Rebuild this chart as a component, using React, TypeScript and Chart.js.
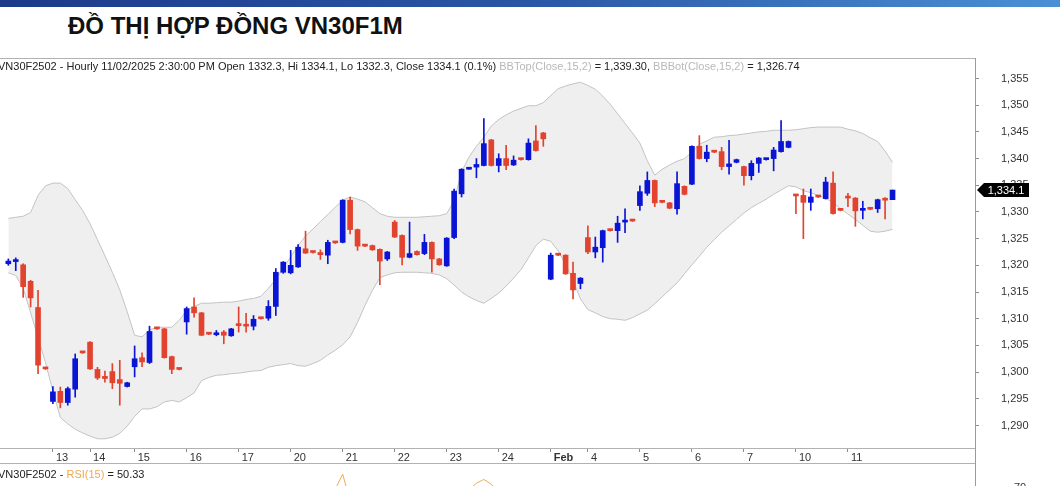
import React, { useEffect, useRef } from "react";
import { Chart, registerables } from "chart.js";

Chart.register(...registerables);

const FONT = "'Liberation Sans', Arial, Helvetica, sans-serif";

// ---- data ----
const opens = [
  1320.3, 1320.7, 1320.1, 1317.0, 1312.1, 1300.6, 1294.5, 1296.4, 1294.3, 1296.8,
  1303.6, 1305.6, 1300.5, 1299.2, 1300.1, 1298.6, 1297.3, 1301.0, 1302.7, 1301.8,
  1308.1, 1308.1, 1302.9, 1300.5, 1309.4, 1312.2, 1311.1, 1307.1, 1307.0, 1307.5,
  1306.8, 1309.0, 1308.9, 1308.6, 1310.0, 1310.1, 1312.3, 1318.7, 1318.6, 1319.7,
  1323.1, 1322.4, 1322.4, 1321.9, 1324.2, 1324.3, 1332.2, 1326.7, 1323.6, 1323.7,
  1323.0, 1321.2, 1328.1, 1325.6, 1321.5, 1322.6, 1322.2, 1324.3, 1321.2, 1319.9,
  1325.2, 1333.4, 1338.0, 1338.4, 1338.7, 1343.5, 1338.7, 1340.0, 1338.8, 1339.8,
  1339.8, 1343.3, 1344.8, 1317.4, 1321.9, 1321.9, 1318.5, 1316.6, 1325.2, 1322.5,
  1323.3, 1326.5, 1326.5, 1328.1, 1328.3, 1331.2, 1333.5, 1335.9, 1331.8, 1331.7,
  1330.6, 1334.8, 1335.2, 1342.3, 1340.0, 1341.2, 1341.3, 1338.5, 1339.3, 1338.5,
  1336.8, 1339.1, 1339.8, 1340.0, 1341.3, 1342.1, 1333.1, 1333.1, 1331.8, 1332.8,
  1332.5, 1335.4, 1330.3, 1332.8, 1332.6, 1330.3, 1330.5, 1330.6, 1332.4, 1332.3,
];
const highs = [
  1321.2, 1321.4, 1320.3, 1317.2, 1315.3, 1300.7, 1297.3, 1297.2, 1297.2, 1303.4,
  1303.7, 1305.7, 1300.9, 1300.2, 1301.6, 1302.2, 1298.1, 1304.9, 1303.6, 1308.6,
  1308.2, 1308.2, 1303.0, 1300.6, 1312.2, 1313.9, 1311.2, 1307.2, 1307.8, 1307.8,
  1308.2, 1312.2, 1311.0, 1310.6, 1310.1, 1313.4, 1319.4, 1320.7, 1322.8, 1323.9,
  1326.4, 1322.5, 1322.9, 1324.7, 1324.3, 1332.3, 1332.8, 1326.8, 1323.7, 1323.8,
  1323.1, 1322.6, 1328.4, 1325.7, 1328.1, 1322.7, 1325.8, 1324.4, 1321.3, 1325.2,
  1334.3, 1338.1, 1338.2, 1340.0, 1347.5, 1343.6, 1340.9, 1342.5, 1340.5, 1339.9,
  1343.7, 1346.2, 1344.9, 1322.3, 1322.0, 1322.0, 1320.6, 1317.7, 1327.4, 1325.3,
  1326.6, 1326.6, 1329.2, 1330.6, 1328.4, 1334.9, 1337.5, 1336.0, 1331.9, 1331.8,
  1337.5, 1334.9, 1342.4, 1344.3, 1342.5, 1341.3, 1342.1, 1343.4, 1339.9, 1338.6,
  1339.6, 1340.2, 1340.0, 1342.1, 1347.1, 1343.3, 1333.2, 1334.3, 1334.3, 1332.9,
  1336.5, 1337.5, 1330.4, 1333.5, 1332.7, 1332.0, 1330.6, 1332.4, 1332.7, 1334.1,
];
const lows = [
  1320.0, 1319.0, 1314.0, 1312.2, 1299.7, 1300.5, 1294.1, 1293.3, 1293.8, 1295.3,
  1303.5, 1300.5, 1298.6, 1298.1, 1296.9, 1293.8, 1297.2, 1299.1, 1301.0, 1301.6,
  1308.0, 1302.6, 1299.7, 1300.4, 1307.1, 1310.3, 1306.8, 1307.0, 1306.8, 1305.3,
  1306.7, 1307.5, 1307.5, 1307.9, 1309.9, 1309.7, 1310.6, 1318.5, 1318.4, 1319.6,
  1322.2, 1322.3, 1321.1, 1320.3, 1324.1, 1324.2, 1325.9, 1322.8, 1323.5, 1322.8,
  1316.4, 1320.9, 1325.2, 1320.1, 1321.4, 1321.9, 1322.0, 1318.7, 1320.0, 1319.8,
  1325.0, 1332.8, 1338.0, 1336.4, 1338.6, 1338.6, 1337.5, 1337.9, 1338.7, 1339.7,
  1339.7, 1341.4, 1342.3, 1317.3, 1321.8, 1318.3, 1313.7, 1315.6, 1322.2, 1321.4,
  1320.6, 1326.4, 1324.3, 1326.1, 1328.2, 1330.3, 1333.1, 1331.0, 1331.7, 1330.6,
  1329.6, 1333.2, 1335.1, 1339.9, 1339.4, 1341.1, 1337.9, 1337.1, 1339.2, 1335.0,
  1336.0, 1337.4, 1339.7, 1337.7, 1341.2, 1342.0, 1329.7, 1325.0, 1330.3, 1332.7,
  1332.4, 1329.6, 1330.2, 1331.0, 1327.3, 1328.7, 1330.4, 1329.9, 1328.7, 1332.3,
];
const closes = [
  1320.8, 1320.9, 1316.0, 1313.9, 1301.3, 1300.6, 1296.3, 1294.3, 1296.9, 1302.5,
  1303.6, 1300.6, 1298.9, 1298.8, 1298.0, 1297.9, 1298.0, 1302.5, 1301.9, 1307.6,
  1308.1, 1302.7, 1300.5, 1300.5, 1311.9, 1311.1, 1306.9, 1307.1, 1307.2, 1306.9,
  1308.1, 1308.7, 1308.6, 1309.9, 1310.0, 1312.3, 1318.7, 1320.6, 1320.0, 1323.4,
  1322.3, 1322.4, 1322.0, 1324.3, 1324.2, 1332.2, 1326.7, 1323.6, 1323.6, 1322.9,
  1320.8, 1322.5, 1325.3, 1321.5, 1322.2, 1322.0, 1324.3, 1321.2, 1320.1, 1325.1,
  1333.9, 1338.0, 1338.1, 1338.9, 1342.8, 1338.7, 1340.0, 1338.7, 1339.7, 1339.8,
  1342.9, 1341.5, 1343.7, 1321.9, 1321.9, 1318.4, 1315.4, 1317.6, 1322.5, 1323.4,
  1326.5, 1326.5, 1327.9, 1328.4, 1328.3, 1333.8, 1335.9, 1331.7, 1331.8, 1330.7,
  1335.3, 1333.3, 1342.3, 1340.0, 1341.2, 1341.2, 1338.5, 1339.0, 1339.8, 1336.8,
  1339.1, 1340.1, 1339.9, 1341.6, 1343.2, 1343.2, 1333.0, 1331.8, 1332.8, 1332.8,
  1335.6, 1329.7, 1330.3, 1332.6, 1330.2, 1330.5, 1330.5, 1332.3, 1332.2, 1334.1,
];
const bbTop = [
  1328.8, 1329.0, 1329.2, 1329.9, 1333.1, 1334.9, 1335.4, 1335.4, 1334.4, 1332.3,
  1330.3, 1327.8, 1324.8, 1321.8, 1318.7, 1315.4, 1311.3, 1306.9, 1306.6, 1307.9,
  1308.4, 1308.4, 1308.4, 1309.7, 1311.5, 1312.3, 1312.9, 1312.9, 1313.0, 1313.1,
  1313.1, 1313.3, 1313.6, 1313.8, 1314.2, 1315.7, 1317.4, 1319.5, 1321.6, 1323.7,
  1325.5, 1326.8, 1328.2, 1329.5, 1330.9, 1332.2, 1332.8, 1332.4, 1331.9, 1330.8,
  1329.7, 1329.2, 1329.0, 1329.0, 1329.0, 1329.0, 1329.1, 1329.2, 1329.3, 1329.7,
  1332.1, 1337.5, 1340.3, 1342.3, 1344.0, 1346.1, 1347.3, 1348.2, 1348.9, 1349.4,
  1349.9, 1349.9, 1350.5, 1351.8, 1353.1, 1353.6, 1354.0, 1354.3, 1353.7, 1353.0,
  1351.7, 1350.2, 1348.4, 1346.6, 1344.8, 1342.9, 1339.6, 1336.9, 1338.0, 1338.8,
  1339.5, 1340.0, 1341.2, 1342.7, 1343.3, 1344.0, 1344.1, 1344.3, 1344.4, 1344.6,
  1344.8, 1345.0, 1345.1, 1345.3, 1345.3, 1345.3, 1345.4, 1345.6, 1345.8, 1345.9,
  1345.9, 1345.9, 1345.9, 1345.5, 1345.2, 1344.7, 1343.9, 1343.2, 1341.4, 1339.30,
];
const bbBot = [
  1318.6, 1318.1, 1315.7, 1311.1, 1306.5, 1301.8, 1296.4, 1291.5, 1290.3, 1289.3,
  1288.6, 1288.0, 1287.5, 1287.5, 1287.8, 1288.5, 1289.9, 1291.7, 1293.1, 1293.1,
  1293.5, 1294.4, 1294.7, 1294.4, 1295.2, 1296.1, 1298.4, 1299.0, 1299.4, 1299.5,
  1299.7, 1299.8, 1300.0, 1300.2, 1300.3, 1300.9, 1301.2, 1301.4, 1301.6, 1301.2,
  1301.1, 1301.6, 1302.2, 1303.2, 1304.1, 1305.1, 1306.6, 1309.3, 1312.5, 1315.3,
  1317.7, 1318.2, 1318.6, 1318.7, 1318.7, 1318.7, 1318.6, 1318.5, 1318.2, 1317.5,
  1316.3, 1315.0, 1314.1, 1313.4, 1312.9, 1313.8, 1314.8, 1316.1, 1317.6, 1319.2,
  1321.4, 1323.7, 1324.9, 1324.5, 1322.7, 1320.2, 1317.2, 1313.7, 1311.7, 1311.1,
  1310.4, 1310.0, 1309.9, 1309.7, 1310.2, 1310.9, 1311.6, 1312.8, 1314.1, 1315.4,
  1316.7, 1318.4, 1320.1, 1321.7, 1323.4, 1324.8, 1326.2, 1327.4, 1328.6, 1329.8,
  1330.8, 1331.6, 1332.4, 1333.3, 1334.1, 1334.9, 1334.7, 1334.0, 1333.6, 1333.1,
  1332.6, 1331.7, 1330.6, 1329.6, 1328.6, 1327.5, 1326.4, 1326.2, 1326.4, 1326.74,
];
const rsi = [
  45, 46, 35, 30, 22, 22, 20, 19, 23, 33,
  35, 31, 30, 30, 31, 30, 30, 38, 37, 46,
  47, 40, 38, 38, 51, 50, 45, 45, 46, 45,
  48, 49, 49, 51, 51, 55, 63, 65, 64, 66,
  62, 62, 61, 64, 68.8, 86.8, 54.5, 52, 52, 51,
  48, 51, 58, 50, 51, 51, 55, 49, 48, 57,
  64, 66, 68.2, 76, 80.4, 74.8, 64.4, 62, 63, 63,
  66, 63, 64, 43, 44, 40, 36, 39, 49, 50,
  53, 53, 55, 56, 56, 61, 63, 56, 56, 54,
  60, 58, 66, 62, 63, 63, 59, 60, 60, 56,
  59, 61, 61, 62, 65, 65, 49, 47, 49, 49,
  54, 45, 46, 48, 45, 46, 46, 49, 49, 50.33,
];
const dayTickIndex = [6, 11, 17, 24, 31, 38, 45, 52, 59, 66, 73, 78, 85, 92, 99, 106, 113];
const dayTickLabels = ["13", "14", "15", "16", "17", "20", "21", "22", "23", "24", "Feb", "4", "5", "6", "7", "10", "11"];
const priceTicks = [1290, 1295, 1300, 1305, 1310, 1315, 1320, 1325, 1330, 1335, 1340, 1345, 1350, 1355];
const rsiTicks = [30, 50, 70];

const X_MIN = -1.12;
const X_MAX = 130.1;
const Y_MIN = 1285.78;
const Y_MAX = 1358.84;

const UP = "#0a14d4";
const DOWN = "#e2432e";
const TICK_GRAY = "#8c8c8c";
const LINE_GRAY = "#b2b2b2";

const fmt = (v: number, d = 0) =>
  v.toLocaleString("en-US", { minimumFractionDigits: d, maximumFractionDigits: d });

export default function App() {
  const mainRef = useRef<HTMLCanvasElement>(null);
  const rsiRef = useRef<HTMLCanvasElement>(null);

  useEffect(() => {
    Chart.defaults.font.family = FONT;
    Chart.defaults.font.size = 11;
    Chart.defaults.color = "#333";

    const idx = closes.map((_, i) => i);
    const colors = idx.map((i) => (closes[i] > opens[i] ? UP : DOWN));

    const lastTag = {
      id: "lastTag",
      afterDraw(chart: any) {
        const ys = chart.scales.y;
        const ca = chart.chartArea;
        const v = closes[closes.length - 1];
        const y = Math.round(ys.getPixelForValue(v));
        const ctx = chart.ctx;
        const x0 = ca.right + 2;
        const h = 7;
        ctx.save();
        ctx.fillStyle = "#000";
        ctx.beginPath();
        ctx.moveTo(x0, y);
        ctx.lineTo(x0 + 7, y - h);
        ctx.lineTo(x0 + 52, y - h);
        ctx.lineTo(x0 + 52, y + h);
        ctx.lineTo(x0 + 7, y + h);
        ctx.closePath();
        ctx.fill();
        ctx.fillStyle = "#fff";
        ctx.font = `11px ${FONT}`;
        ctx.textAlign = "center";
        ctx.textBaseline = "middle";
        ctx.fillText(fmt(v, 1), x0 + 29, y + 0.5);
        ctx.restore();
      },
    };

    const main = new Chart(mainRef.current as HTMLCanvasElement, {
      type: "bar",
      data: {
        datasets: [
          {
            type: "line",
            data: idx.map((i) => ({ x: i, y: bbTop[i] })),
            borderColor: "#c3c3c3",
            borderWidth: 1,
            pointRadius: 0,
            fill: "+1",
            backgroundColor: "#efefef",
            order: 3,
          } as any,
          {
            type: "line",
            data: idx.map((i) => ({ x: i, y: bbBot[i] })),
            borderColor: "#c3c3c3",
            borderWidth: 1,
            pointRadius: 0,
            fill: false,
            order: 4,
          } as any,
          {
            type: "bar",
            data: idx.map((i) => ({ x: i, y: [lows[i], highs[i]] })),
            backgroundColor: colors,
            borderWidth: 0,
            barThickness: 1,
            grouped: false,
            order: 1,
          } as any,
          {
            type: "bar",
            data: idx.map((i) => ({ x: i, y: [opens[i], closes[i]] })),
            backgroundColor: colors,
            borderWidth: 0,
            barThickness: 5,
            minBarLength: 2,
            grouped: false,
            order: 0,
          } as any,
        ],
      },
      options: {
        responsive: false,
        animation: false,
        events: [],
        layout: { padding: { top: 8, left: 0, right: 0, bottom: 0 }, autoPadding: false },
        plugins: {
          legend: { display: false },
          tooltip: { enabled: false },
          filler: { drawTime: "beforeDatasetsDraw" },
        },
        scales: {
          x: {
            type: "linear",
            min: X_MIN,
            max: X_MAX,
            offset: false,
            grid: { display: true, drawOnChartArea: false, drawTicks: true, tickLength: 4, color: TICK_GRAY, offset: false },
            border: { display: false },
            afterBuildTicks: (s: any) => {
              s.ticks = dayTickIndex.map((v) => ({ value: v }));
            },
            afterFit: (s: any) => {
              s.height = 22;
              s.paddingLeft = 0;
              s.paddingRight = 0;
            },
            ticks: {
              autoSkip: false,
              maxRotation: 0,
              minRotation: 0,
              align: "start",
              labelOffset: 3,
              padding: -1,
              color: "#333",
              callback: (v: any) => {
                const k = dayTickIndex.indexOf(Number(v));
                return k >= 0 ? dayTickLabels[k] : "";
              },
              font: (ctx: any) => ({
                family: FONT,
                size: 11,
                weight: dayTickLabels[ctx.index] === "Feb" ? "bold" : "normal",
              }),
            },
          },
          y: {
            type: "linear",
            position: "right",
            min: Y_MIN,
            max: Y_MAX,
            grid: { drawOnChartArea: false, drawTicks: true, tickLength: 4, color: TICK_GRAY },
            border: { display: false },
            afterBuildTicks: (s: any) => {
              s.ticks = priceTicks.map((v) => ({ value: v }));
            },
            afterFit: (s: any) => {
              s.width = 85;
              s.paddingTop = 0;
              s.paddingBottom = 0;
            },
            ticks: {
              padding: 22,
              color: "#333",
              font: { family: FONT, size: 11 },
              callback: (v: any) => fmt(Number(v)),
            },
          },
        },
      } as any,
      plugins: [lastTag],
    });

    const rsiChart = new Chart(rsiRef.current as HTMLCanvasElement, {
      type: "line",
      data: {
        datasets: [
          {
            data: idx.map((i) => ({ x: i, y: rsi[i] })),
            borderColor: "#eeaa58",
            borderWidth: 1,
            pointRadius: 0,
            fill: false,
            tension: 0,
          },
        ],
      },
      options: {
        responsive: false,
        animation: false,
        events: [],
        layout: { padding: 0, autoPadding: false },
        plugins: { legend: { display: false }, tooltip: { enabled: false } },
        scales: {
          x: { type: "linear", min: X_MIN, max: X_MAX, display: false },
          y: {
            type: "linear",
            position: "right",
            min: 0,
            max: 100,
            grid: { drawOnChartArea: false, drawTicks: true, tickLength: 4, color: TICK_GRAY },
            border: { display: false },
            afterBuildTicks: (s: any) => {
              s.ticks = rsiTicks.map((v) => ({ value: v }));
            },
            afterFit: (s: any) => {
              s.width = 85;
              s.paddingTop = 0;
              s.paddingBottom = 0;
            },
            ticks: { padding: 35, color: "#333", font: { family: FONT, size: 11 } },
          },
        },
      } as any,
    });

    return () => {
      main.destroy();
      rsiChart.destroy();
    };
  }, []);

  const last = closes.length - 1;
  const pct = ((closes[last] - closes[last - 1]) / closes[last - 1]) * 100;
  const gray = { color: "#b8b8b8" };

  return (
    <div
      style={{
        position: "fixed",
        left: 0,
        top: 0,
        width: 1060,
        height: 486,
        overflow: "hidden",
        background: "#fff",
        fontFamily: FONT,
        color: "#222",
      }}
    >
      <div
        style={{
          position: "absolute",
          left: 0,
          top: 0,
          width: 1060,
          height: 7,
          background: "linear-gradient(90deg, #1d3a8a 0%, #2a56a6 50%, #4a90d4 100%)",
        }}
      />
      <div
        style={{
          position: "absolute",
          left: 68,
          top: 14,
          fontSize: 24,
          fontWeight: "bold",
          lineHeight: "24px",
          color: "#111",
          whiteSpace: "nowrap",
        }}
      >
        ĐỒ THỊ HỢP ĐỒNG VN30F1M
      </div>

      <canvas
        ref={mainRef}
        width={1060}
        height={420}
        style={{ position: "absolute", left: 0, top: 50, width: 1060, height: 420 }}
      />
      <canvas
        ref={rsiRef}
        width={1060}
        height={84}
        style={{ position: "absolute", left: 0, top: 463, width: 1060, height: 84 }}
      />

      <div style={{ position: "absolute", left: 0, top: 58, width: 976, height: 1, background: LINE_GRAY }} />
      <div style={{ position: "absolute", left: 975, top: 58, width: 1, height: 428, background: "#9a9a9a" }} />
      <div style={{ position: "absolute", left: 0, top: 448, width: 975, height: 1, background: LINE_GRAY }} />
      <div style={{ position: "absolute", left: 0, top: 463, width: 975, height: 1, background: LINE_GRAY }} />

      <div
        style={{
          position: "absolute",
          left: -2,
          top: 60,
          fontSize: 11,
          lineHeight: "13px",
          whiteSpace: "nowrap",
          color: "#222",
        }}
      >
        {`VN30F2502 - Hourly 11/02/2025 2:30:00 PM Open ${opens[last].toFixed(1)}, Hi ${highs[last].toFixed(1)}, Lo ${lows[last].toFixed(1)}, Close ${closes[last].toFixed(1)} (${pct.toFixed(1)}%) `}
        <span style={gray}>BBTop(Close,15,2)</span>
        {` = ${fmt(bbTop[last], 2)}, `}
        <span style={gray}>BBBot(Close,15,2)</span>
        {` = ${fmt(bbBot[last], 2)}`}
      </div>

      <div
        style={{
          position: "absolute",
          left: -2,
          top: 468,
          fontSize: 11,
          lineHeight: "13px",
          whiteSpace: "nowrap",
          color: "#222",
        }}
      >
        {"VN30F2502 - "}
        <span style={{ color: "#f0a850" }}>RSI(15)</span>
        {` = ${rsi[last].toFixed(2)}`}
      </div>
    </div>
  );
}
